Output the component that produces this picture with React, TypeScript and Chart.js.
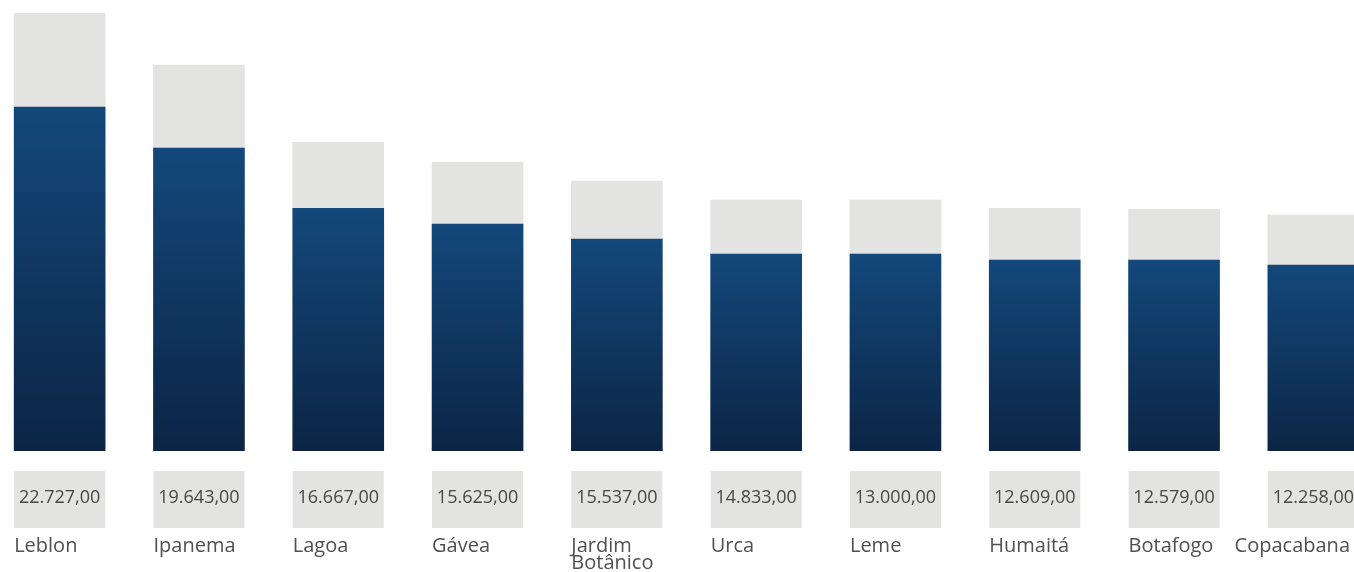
import { useEffect, useRef } from "react";
import { Chart, registerables } from "chart.js";

Chart.register(...registerables);

// Bairros do Rio de Janeiro
const bairros: string[][] = [
  ["Leblon"],
  ["Ipanema"],
  ["Lagoa"],
  ["Gávea"],
  ["Jardim", "Botânico"],
  ["Urca"],
  ["Leme"],
  ["Humaitá"],
  ["Botafogo"],
  ["Copacabana"],
];

// Preço médio do m² (R$)
const precoM2 = [22727, 19643, 16667, 15625, 15537, 14833, 13000, 12609, 12579, 12258];

// Índice (barra azul) e margem adicional (parte cinza)
const indice = [100, 88.1, 70.6, 66.0, 61.6, 57.3, 57.3, 55.5, 55.5, 54.1];
const margem = [27.3, 24.1, 19.2, 18.0, 16.9, 15.7, 15.7, 15.1, 14.8, 14.5];

const VIEW_W = 1354;
const VIEW_H = 572;
const SHIFT = 10; // the canvas starts a little left of the page edge
const CANVAS_W = 1393;

const AZUL_TOPO = "#13487b";
const AZUL_BASE = "#0c2545";
const CINZA = "#e3e3e2";
const FONTE = "'Open Sans', Lato, sans-serif";

function formatBRL(n: number): string {
  const [int, dec] = n.toFixed(2).split(".");
  const withDots = int.replace(/\B(?=(\d{3})+(?!\d))/g, ".");
  return `${withDots},${dec}`;
}

const rotulosPlugin = {
  id: "rotulos",
  afterDatasetsDraw(chart: any) {
    const { ctx } = chart;
    const meta = chart.getDatasetMeta(0);
    const rightLimit = VIEW_W + SHIFT - 4;
    ctx.save();
    meta.data.forEach((bar: any, i: number) => {
      const props = bar.getProps(["x", "width"], true);
      const left = props.x - props.width / 2;
      // value box
      ctx.fillStyle = CINZA;
      ctx.fillRect(left, 471, props.width, 57);
      ctx.fillStyle = "#474747";
      ctx.font = `18px ${FONTE}`;
      ctx.textAlign = "center";
      ctx.textBaseline = "alphabetic";
      ctx.fillText(formatBRL(precoM2[i]), props.x, 503);
      // neighbourhood name
      ctx.fillStyle = "#505050";
      ctx.font = `20px ${FONTE}`;
      ctx.textAlign = "left";
      const lines = bairros[i];
      const widest = Math.max(...lines.map((l) => ctx.measureText(l).width));
      const x = Math.min(left, rightLimit - widest);
      lines.forEach((line, k) => {
        ctx.fillText(line, x, 552 + k * 17);
      });
    });
    ctx.restore();
  },
};

export default function App() {
  const canvasRef = useRef<HTMLCanvasElement | null>(null);

  useEffect(() => {
    const canvas = canvasRef.current;
    if (!canvas) return;
    const chart = new Chart(canvas, {
      type: "bar",
      data: {
        labels: bairros.map((b) => b.join(" ")),
        datasets: [
          {
            label: "Índice",
            data: indice,
            backgroundColor: (c: any) => {
              const ch = c.chart;
              if (!ch.chartArea || c.raw == null) return AZUL_TOPO;
              const y = ch.scales.y;
              const top = y.getPixelForValue(c.raw);
              const base = y.getPixelForValue(0);
              const g = ch.ctx.createLinearGradient(0, top, 0, base);
              g.addColorStop(0, AZUL_TOPO);
              g.addColorStop(1, AZUL_BASE);
              return g;
            },
            borderWidth: 0,
            barThickness: 91,
          },
          {
            label: "Margem",
            data: margem,
            backgroundColor: CINZA,
            borderWidth: 0,
            barThickness: 91,
          },
        ],
      },
      options: {
        responsive: false,
        animation: false,
        layout: { padding: { top: 4, bottom: 121, left: 0, right: 0 } },
        plugins: {
          legend: { display: false },
          tooltip: { enabled: false },
        },
        scales: {
          x: { stacked: true, display: false },
          y: { stacked: true, display: false, min: 0, max: 130 },
        },
      },
      plugins: [rotulosPlugin],
    });
    return () => chart.destroy();
  }, []);

  return (
    <div
      style={{
        position: "fixed",
        left: 0,
        top: 0,
        width: VIEW_W,
        height: VIEW_H,
        overflow: "hidden",
        background: "#ffffff",
      }}
    >
      <canvas
        ref={canvasRef}
        width={CANVAS_W}
        height={VIEW_H}
        style={{ position: "absolute", left: -SHIFT, top: 0, width: CANVAS_W, height: VIEW_H }}
      />
    </div>
  );
}
